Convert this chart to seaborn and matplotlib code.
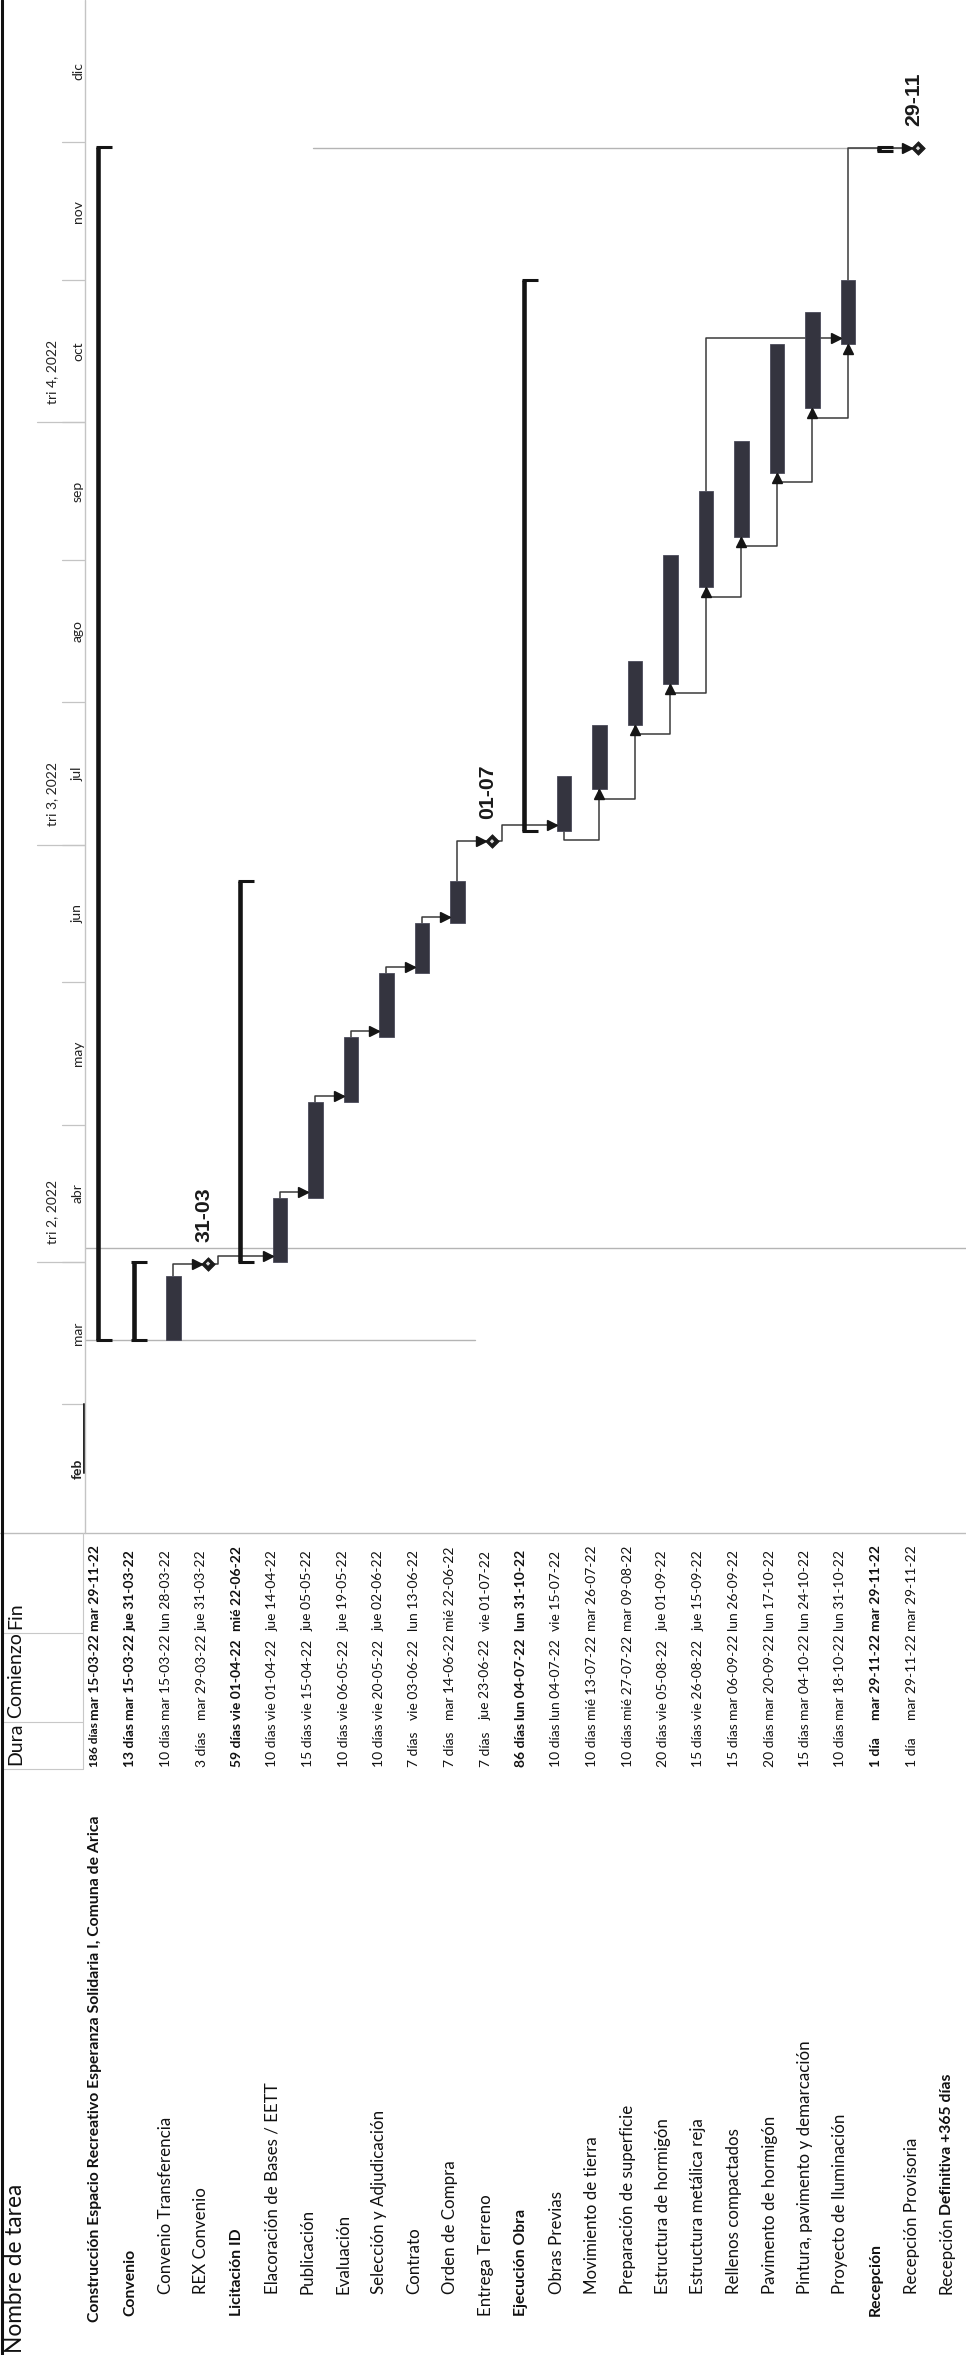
import pandas as pd
import numpy as np
import matplotlib
matplotlib.use("Agg")
import matplotlib.pyplot as plt
import matplotlib.dates as mdates
from matplotlib.textpath import TextPath
from matplotlib.font_manager import FontProperties
import seaborn as sns

# ---- datos del proyecto ----
tareas = ["Construcción Espacio Recreativo Esperanza Solidaria I, Comuna de Arica",
          "Convenio", "Convenio Transferencia", "REX Convenio", "Licitación ID",
          "Elacoración de Bases / EETT", "Publicación", "Evaluación",
          "Selección y Adjudicación", "Contrato", "Orden de Compra", "Entrega Terreno",
          "Ejecución Obra", "Obras Previas", "Movimiento de tierra",
          "Preparación de superficie", "Estructura de hormigón",
          "Estructura metálica reja", "Rellenos compactados", "Pavimento de hormigón",
          "Pintura, pavimento y demarcación", "Proyecto de Iluminación", "Recepción",
          "Recepción Provisoria", "Recepción Definitiva +365 días"]
nivel = [0, 1, 2, 2, 1, 2, 2, 2, 2, 2, 2, 1, 1, 2, 2, 2, 2, 2, 2, 2, 2, 2, 1, 2, 2]
tipo = ["resumen", "resumen", "tarea", "hito", "resumen", "tarea", "tarea", "tarea",
        "tarea", "tarea", "tarea", "hito", "resumen", "tarea", "tarea", "tarea",
        "tarea", "tarea", "tarea", "tarea", "tarea", "tarea", "resumen", "hito", ""]
duracion = ["186 días", "13 días", "10 días", "3 días", "59 días", "10 días", "15 días",
            "10 días", "10 días", "7 días", "7 días", "7 días", "86 días", "10 días",
            "10 días", "10 días", "20 días", "15 días", "15 días", "20 días", "15 días",
            "10 días", "1 día", "1 día", ""]
comienzo = ["2022-03-15", "2022-03-15", "2022-03-15", "2022-03-29", "2022-04-01",
            "2022-04-01", "2022-04-15", "2022-05-06", "2022-05-20", "2022-06-03",
            "2022-06-14", "2022-06-23", "2022-07-04", "2022-07-04", "2022-07-13",
            "2022-07-27", "2022-08-05", "2022-08-26", "2022-09-06", "2022-09-20",
            "2022-10-04", "2022-10-18", "2022-11-29", "2022-11-29", None]
fin = ["2022-11-29", "2022-03-31", "2022-03-28", "2022-03-31", "2022-06-22",
       "2022-04-14", "2022-05-05", "2022-05-19", "2022-06-02", "2022-06-13",
       "2022-06-22", "2022-07-01", "2022-10-31", "2022-07-15", "2022-07-26",
       "2022-08-09", "2022-09-01", "2022-09-15", "2022-09-26", "2022-10-17",
       "2022-10-24", "2022-10-31", "2022-11-29", "2022-11-29", None]

# vinculos fin-comienzo y comienzo-comienzo
enlaces_fc = [(2, 3), (3, 5), (5, 6), (6, 7), (7, 8), (8, 9), (9, 10), (10, 11),
              (11, 13), (17, 21), (21, 23)]
enlaces_cc = [(13, 14), (14, 15), (15, 16), (16, 17), (17, 18), (18, 19), (19, 20), (20, 21)]

meses = ["feb", "mar", "abr", "may", "jun", "jul", "ago", "sep", "oct", "nov", "dic"]
trimestres = ["tri 2, 2022", "tri 3, 2022", "tri 4, 2022"]
inicio_trim = ["2022-04-01", "2022-07-01", "2022-10-01"]
fechas_lineas = ["2022-03-15", "2022-04-04", "2022-11-29"]

dias_sem = ["lun", "mar", "mié", "jue", "vie", "sáb", "dom"]

df = pd.DataFrame({"tarea": tareas, "nivel": nivel, "tipo": tipo, "dura": duracion,
                   "ini": pd.to_datetime(comienzo), "fin": pd.to_datetime(fin)})
df["y0"] = mdates.date2num(df["ini"])
df["y1"] = mdates.date2num(df["fin"]) + 1
df["yh"] = mdates.date2num(df["fin"]) + 0.7


def fmt(d):
    if pd.isna(d):
        return ""
    return f"{dias_sem[d.weekday()]} {d:%d-%m-%y}"


def ancho(s, size, weight="normal", family="Lato"):
    tp = TextPath((0, 0), s, size=size, prop=FontProperties(family=family, weight=weight))
    return tp.get_extents().width * 100 / 72


def ajustar(s, objetivo, weight="normal", family="Lato"):
    # tamaño de letra para que el texto mida 'objetivo' px
    return 10 * objetivo / ancho(s, 10, weight, family)


sns.set_style("white")
plt.rcParams["font.family"] = ["Lato", "DejaVu Sans"]

fs_nom = ajustar("Pintura, pavimento y demarcación", 249)
fs_nom_b = ajustar(tareas[0], 505, "bold")
fs_fecha = ajustar("mar 06-09-22", 84)
fs_cab = ajustar("Nombre de tarea", 165)
fs_col = ajustar("Comienzo", 84)
fs_esc = ajustar("tri 2, 2022", 63)
fs_hito = ajustar("31-03", 53, "bold", "Liberation Sans")

W, H = 966, 2355
BORDE = 1533   # frontera entre tabla y diagrama (px desde arriba)
CAB = 85       # alto de la escala temporal (px desde la izquierda)
PASO = 35.5
fig = plt.figure(figsize=(W / 100, H / 100), dpi=100)

gantt = fig.add_axes([CAB / W, 1 - BORDE / H, (W - CAB) / W, BORDE / H])
hdr = fig.add_axes([0, 1 - BORDE / H, CAB / W, BORDE / H], sharey=gantt)
tab = fig.add_axes([CAB / W, 0, (W - CAB) / W, 1 - BORDE / H], sharex=gantt)
pix = fig.add_axes([0, 0, 1, 1])
for a in (gantt, hdr, tab, pix):
    a.axis("off")
    a.patch.set_alpha(0)

gantt.set_xlim((CAB - 95) / PASO, (W - 95) / PASO)
gantt.set_ylim(mdates.date2num(pd.Timestamp("2022-02-01")),
               mdates.date2num(pd.Timestamp("2023-01-01")))
hdr.set_xlim(0, CAB)
tab.set_ylim(H, BORDE)
pix.set_xlim(0, W)
pix.set_ylim(H, 0)

LINEA = "#3a3a3a"
BARRA = "#34343f"

# lineas verticales de fecha (inicio, fecha de estado, fin)
desde = [-0.3, -0.3, 6.14]
hasta = [10.7, 25, 22.75]
desfase = [0, 0, 0.7]
for f, x0, x1, dd in zip(fechas_lineas, desde, hasta, desfase):
    yy = mdates.date2num(pd.Timestamp(f)) + dd
    gantt.plot([x0, x1], [yy, yy], color="#b4b4b4", lw=1.0, zorder=1)

# barras de tareas
t = df[df["tipo"] == "tarea"]
gantt.bar(t.index, t["y1"] - t["y0"], bottom=t["y0"], width=0.42, align="edge",
          color=BARRA, edgecolor="#4b4b5a", linewidth=0.6, zorder=4)

# barras de resumen
r = df[df["tipo"] == "resumen"]
for i, row in r.iterrows():
    gantt.plot([i + 0.085] * 2, [row["y0"], row["y1"]], color="#141414", lw=3.3,
               solid_capstyle="butt", zorder=4)
    for yy in (row["y0"], row["y1"]):
        gantt.plot([i + 0.02, i + 0.47], [yy, yy], color="#141414", lw=2.2,
                   solid_capstyle="butt", zorder=4)

# hitos
h = df[df["tipo"] == "hito"]
sns.scatterplot(x=h.index + 0.183, y=h["yh"], marker="D", s=48, color="#1c1c1c",
                edgecolor="#1c1c1c", ax=gantt, legend=False, zorder=6)
sns.scatterplot(x=h.index + 0.183, y=h["yh"], marker="D", s=5, color="#dddddd",
                edgecolor="none", ax=gantt, legend=False, zorder=7)
for i, row in h.iterrows():
    gantt.text(i + 0.07, row["yh"] + 4.8, f"{row['fin']:%d-%m}", rotation=90,
               rotation_mode="anchor", ha="left", va="center", fontsize=fs_hito,
               fontweight="bold", family="Liberation Sans", color="#1a1a1a")
gantt.set_xlabel("")
gantt.set_ylabel("")
gantt.axis("off")

# vinculos
DX = 4.9 / PASO
DY = 4.9 / 4.59
for p, s in enlaces_fc:
    rp, rs = df.loc[p], df.loc[s]
    if rs["tipo"] == "hito":
        yh = rs["yh"]
    else:
        yh = rs["y0"] + 1.3
    if rp["tipo"] == "hito":
        xs = p + 0.366
        pts_x = [xs, xs + 0.1, xs + 0.1, s]
        pts_y = [rp["yh"], rp["yh"], yh, yh]
    else:
        xs = p + 0.21
        pts_x = [xs, xs, s]
        pts_y = [rp["y1"], yh, yh]
    gantt.plot(pts_x, pts_y, color=LINEA, lw=1.1, zorder=3)
    gantt.plot([s - DX], [yh], marker=">", ms=7, color="#151515", zorder=6)

for p, s in enlaces_cc:
    rp, rs = df.loc[p], df.loc[s]
    yb = rp["y0"] - 2
    gantt.plot([p + 0.21, p + 0.21, s + 0.21, s + 0.21],
               [rp["y0"], yb, yb, rs["y0"]], color=LINEA, lw=1.1, zorder=3)
    gantt.plot([s + 0.21], [rs["y0"] - DY], marker="^", ms=7, color="#151515", zorder=6)

# escala temporal
for k, m in enumerate(meses):
    ini = pd.Timestamp(2022, k + 2, 1)
    sig = ini + pd.offsets.MonthBegin(1)
    centro = mdates.date2num(ini) + (sig - ini).days / 2
    hdr.text(78, centro, m, rotation=90, ha="center", va="center", fontsize=fs_esc,
             fontweight="bold" if m == "feb" else "normal", color="#222222")
    if k > 0:
        yy = mdates.date2num(ini)
        hdr.plot([62, CAB], [yy, yy], color="#c4c4c4", lw=0.9)
for q, f in zip(trimestres, inicio_trim):
    yy = mdates.date2num(pd.Timestamp(f))
    hdr.plot([37, CAB], [yy, yy], color="#c4c4c4", lw=0.9)
    hdr.text(52, yy + 4, q, rotation=90, rotation_mode="anchor", ha="left",
             va="center", fontsize=fs_esc, color="#222222")
hdr.plot([84, 84], [mdates.date2num(pd.Timestamp("2022-02-14")),
                    mdates.date2num(pd.Timestamp("2022-03-01"))], color="#222222", lw=1.4)

# tabla de tareas
inicio_nombre = {0: 2322, 1: 2316, 2: 2294}
COL_DURA = 1767
ancho_dura = ancho("10 días", fs_fecha)
ancho_fecha = ancho("mar 06-09-22", fs_fecha)
COL_COM = COL_DURA - ancho_dura - 5
COL_FIN = COL_COM - ancho_fecha - 5
for i, row in df.iterrows():
    bold = "bold" if row["tipo"] == "resumen" else "normal"
    fsn = fs_nom_b if bold == "bold" else fs_nom
    nombre = row["tarea"]
    if i == len(df) - 1:
        primera, resto = nombre.split(" ", 1)
        tab.text(i, inicio_nombre[2], primera, rotation=90,
                 rotation_mode="anchor", ha="left", va="center", fontsize=fs_nom,
                 color="#111111")
        desp = ancho(primera, fs_nom) + 5
        tab.text(i, inicio_nombre[2] - desp, resto, rotation=90, rotation_mode="anchor",
                 ha="left", va="center", fontsize=fs_nom_b, fontweight="bold",
                 color="#111111")
    else:
        tab.text(i, inicio_nombre[row["nivel"]], nombre, rotation=90,
                 rotation_mode="anchor", ha="left", va="center", fontsize=fsn,
                 fontweight=bold, color="#111111")
    if row["dura"]:
        # la columna de duracion es estrecha: se reduce el texto que no cabe
        fsd = min(fs_fecha, ajustar(row["dura"], COL_DURA - COL_COM - 3, bold))
        tab.text(i, COL_DURA, row["dura"], rotation=90, rotation_mode="anchor",
                 ha="left", va="center", fontsize=fsd, fontweight=bold, color="#111111")
    for txt, y0 in ((fmt(row["ini"]), COL_COM), (fmt(row["fin"]), COL_FIN)):
        tab.text(i, y0, txt, rotation=90, rotation_mode="anchor", ha="left",
                 va="center", fontsize=fs_fecha, fontweight=bold, color="#111111")

# cabecera de la tabla y bordes
pix.text(16, 2353, "Nombre de tarea", rotation=90, rotation_mode="anchor", ha="left",
         va="center", fontsize=fs_cab, color="#111111")
for txt, y0 in (("Dura", COL_DURA - 2), ("Comienzo", COL_COM - 2), ("Fin", COL_FIN - 2)):
    pix.text(16, y0, txt, rotation=90, rotation_mode="anchor", ha="left",
             va="center", fontsize=fs_col, color="#111111")
pix.plot([0, W], [BORDE, BORDE], color="#bdbdbd", lw=1.0)
pix.plot([CAB, CAB], [0, BORDE], color="#c4c4c4", lw=1.0)
for yy in (COL_FIN + 2, COL_COM + 2, COL_DURA + 2):
    pix.plot([2, 83], [yy, yy], color="#c8c8c8", lw=0.8)
pix.plot([83, 83], [BORDE, COL_DURA + 2], color="#c8c8c8", lw=0.8)
pix.plot([1.5, 1.5], [0, H], color="#111111", lw=2.2)

fig.savefig("out.png", dpi=100)
